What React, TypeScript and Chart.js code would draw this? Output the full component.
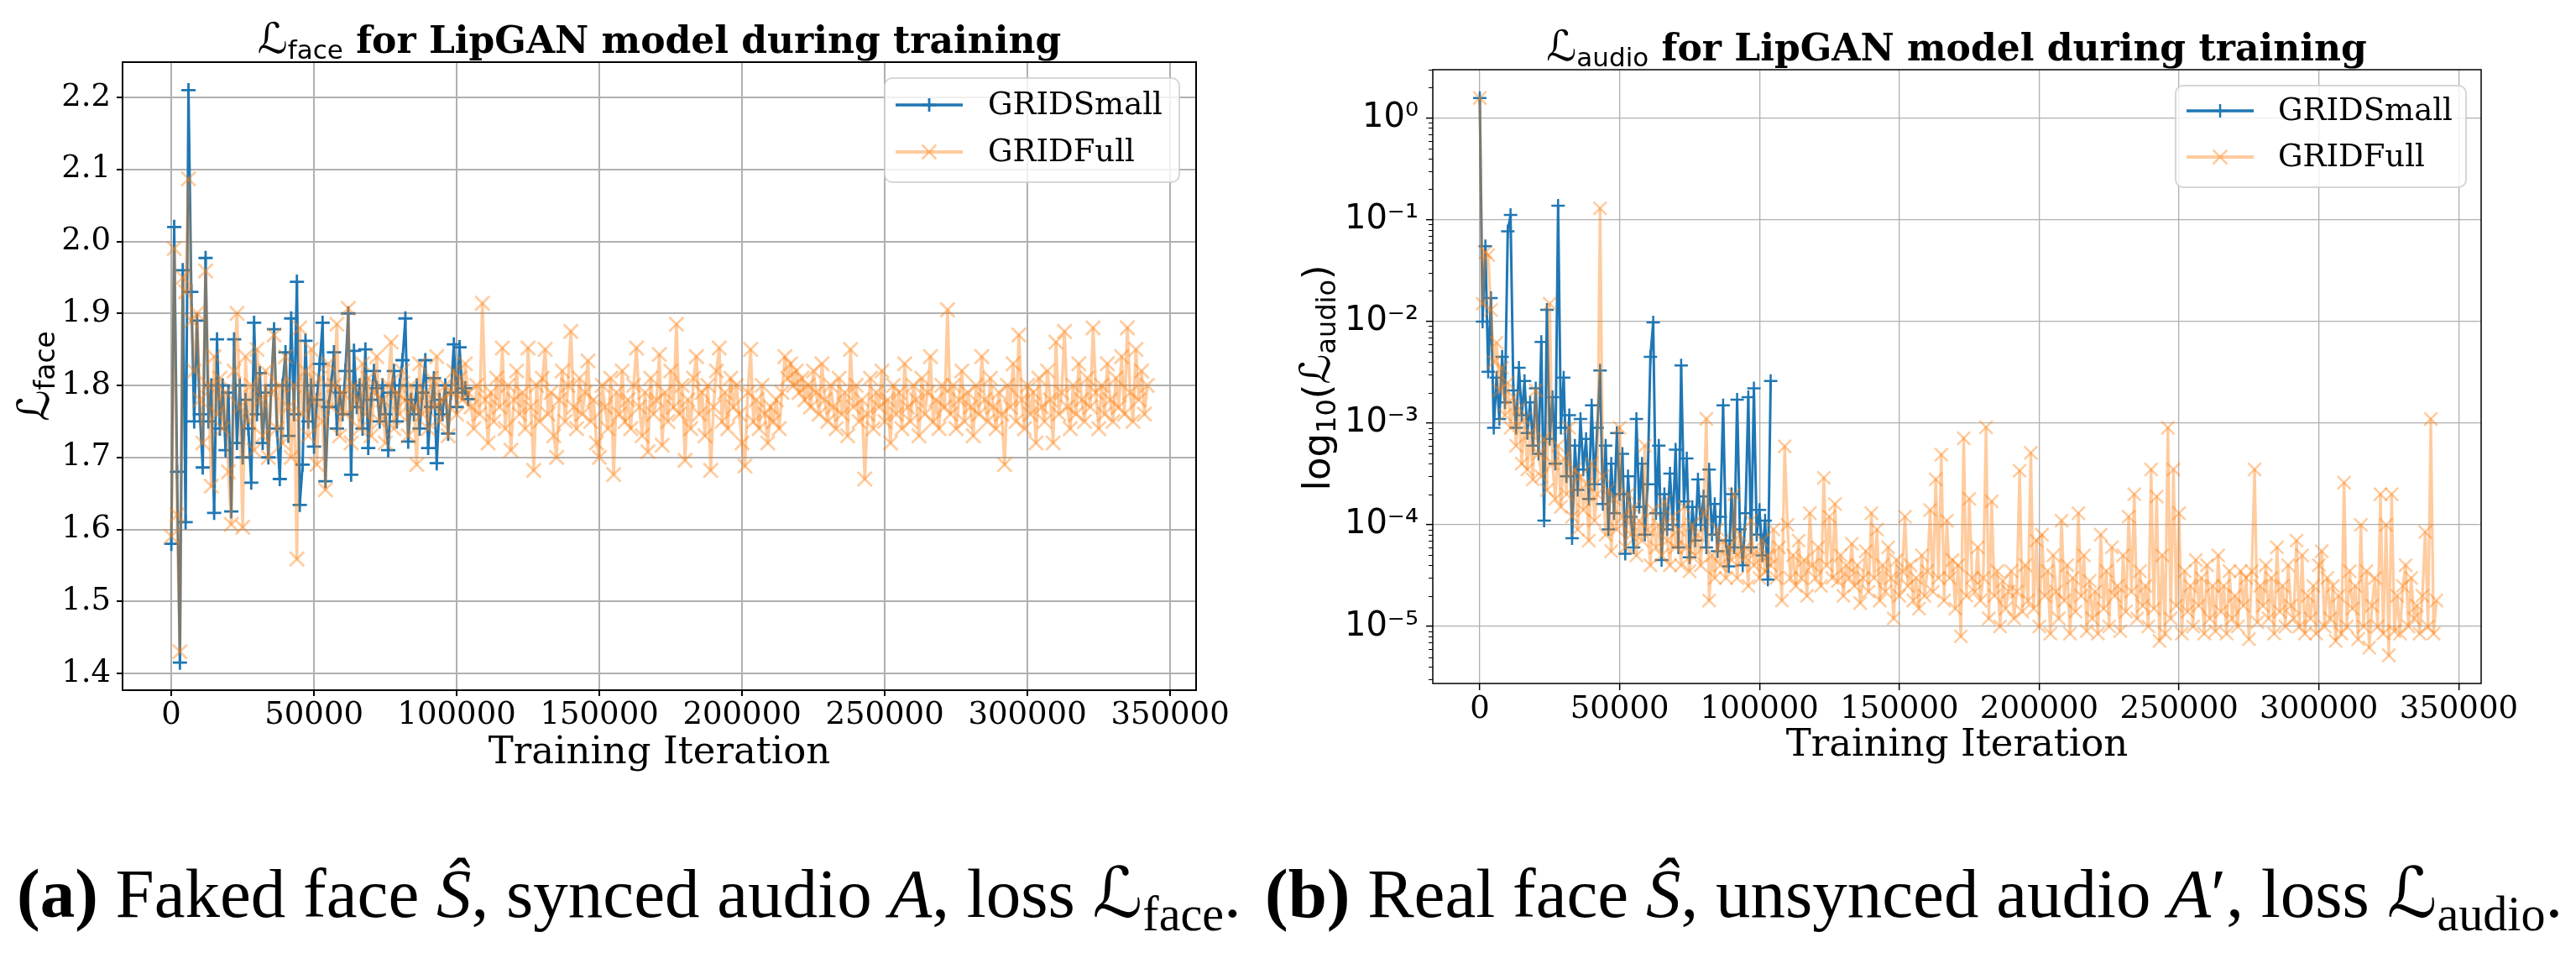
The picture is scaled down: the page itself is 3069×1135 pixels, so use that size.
import React, { useEffect, useRef } from 'react';
import { Chart, registerables } from 'chart.js';

Chart.register(...registerables);

// ---------------- data ----------------
const ITER_STEP = 1000; // logging interval (iterations between points)
const SERIES_NAMES = ['GRIDSmall', 'GRIDFull'];

const X_TICKS = [0, 50000, 100000, 150000, 200000, 250000, 300000, 350000];
const X_TICK_LABELS = ['0', '50000', '100000', '150000', '200000', '250000', '300000', '350000'];

const FACE_Y_TICKS = [1.4, 1.5, 1.6, 1.7, 1.8, 1.9, 2.0, 2.1, 2.2];
const FACE_Y_LABELS = ['1.4', '1.5', '1.6', '1.7', '1.8', '1.9', '2.0', '2.1', '2.2'];

const AUDIO_Y_TICKS = [1e-5, 1e-4, 1e-3, 1e-2, 1e-1, 1];
const AUDIO_Y_LABELS = ['10\u207B\u2075', '10\u207B\u2074', '10\u207B\u00B3', '10\u207B\u00B2', '10\u207B\u00B9', '10\u2070'];

// L_face, GRIDSmall
const FACE_SMALL = [
  1.58, 2.02, 1.68, 1.415, 1.96, 1.61, 2.21, 1.93, 1.75, 1.89,
  1.76, 1.686, 1.977, 1.75, 1.80, 1.623, 1.864, 1.74, 1.80, 1.71,
  1.79, 1.625, 1.864, 1.72, 1.80, 1.70, 1.78, 1.74, 1.665, 1.887,
  1.76, 1.817, 1.72, 1.79, 1.70, 1.80, 1.878, 1.74, 1.67, 1.80,
  1.846, 1.73, 1.893, 1.76, 1.944, 1.634, 1.69, 1.862, 1.75, 1.80,
  1.715, 1.78, 1.83, 1.887, 1.667, 1.77, 1.80, 1.846, 1.74, 1.79,
  1.76, 1.82, 1.90, 1.676, 1.848, 1.77, 1.80, 1.74, 1.85, 1.713,
  1.78, 1.82, 1.796, 1.75, 1.80, 1.76, 1.71, 1.79, 1.82, 1.75,
  1.80, 1.835, 1.893, 1.722, 1.78, 1.76, 1.80, 1.74, 1.79, 1.835,
  1.713, 1.77, 1.81, 1.692, 1.78, 1.76, 1.80, 1.733, 1.79, 1.857,
  1.77, 1.853, 1.79, 1.796, 1.781,
];

// L_face, GRIDFull
const FACE_FULL = [
  1.59, 1.99, 1.62, 1.43, 1.95, 1.93, 2.087, 1.89, 1.82, 1.90,
  1.78, 1.72, 1.959, 1.80, 1.66, 1.84, 1.76, 1.81, 1.74, 1.79,
  1.68, 1.607, 1.82, 1.90, 1.77, 1.603, 1.84, 1.75, 1.80, 1.71,
  1.85, 1.78, 1.73, 1.82, 1.70, 1.79, 1.87, 1.74, 1.80, 1.72,
  1.84, 1.77, 1.70, 1.80, 1.559, 1.88, 1.76, 1.82, 1.73, 1.85,
  1.78, 1.69, 1.81, 1.75, 1.655, 1.83, 1.77, 1.80, 1.885, 1.73,
  1.79, 1.76, 1.907, 1.72, 1.80, 1.78, 1.74, 1.83, 1.76, 1.81,
  1.73, 1.79, 1.84, 1.75, 1.78, 1.72, 1.80, 1.86, 1.74, 1.79,
  1.76, 1.82, 1.78, 1.73, 1.80, 1.77, 1.69, 1.83, 1.76, 1.79,
  1.74, 1.81, 1.77, 1.84, 1.75, 1.78, 1.80, 1.73, 1.79, 1.82,
  1.76, 1.81, 1.78, 1.83, 1.79, 1.77, 1.74, 1.80, 1.76, 1.914,
  1.78, 1.72, 1.79, 1.75, 1.81, 1.77, 1.852, 1.74, 1.80, 1.71,
  1.78, 1.82, 1.76, 1.79, 1.74, 1.852, 1.77, 1.682, 1.80, 1.75,
  1.81, 1.85, 1.76, 1.79, 1.73, 1.70, 1.78, 1.82, 1.75, 1.80,
  1.875, 1.77, 1.74, 1.81, 1.76, 1.79, 1.834, 1.75, 1.78, 1.72,
  1.70, 1.80, 1.77, 1.74, 1.81, 1.676, 1.79, 1.76, 1.82, 1.75,
  1.78, 1.74, 1.80, 1.852, 1.77, 1.73, 1.79, 1.708, 1.81, 1.76,
  1.78, 1.843, 1.717, 1.79, 1.75, 1.82, 1.77, 1.885, 1.76, 1.80,
  1.696, 1.78, 1.74, 1.81, 1.84, 1.76, 1.79, 1.73, 1.80, 1.682,
  1.77, 1.82, 1.852, 1.75, 1.79, 1.74, 1.81, 1.77, 1.80, 1.76,
  1.72, 1.688, 1.79, 1.85, 1.75, 1.78, 1.74, 1.80, 1.76, 1.72,
  1.77, 1.75, 1.78, 1.74, 1.79, 1.84, 1.81, 1.83, 1.80, 1.82,
  1.79, 1.81, 1.78, 1.80, 1.77, 1.82, 1.79, 1.76, 1.83, 1.78,
  1.75, 1.80, 1.77, 1.74, 1.81, 1.76, 1.79, 1.73, 1.85, 1.77,
  1.80, 1.75, 1.78, 1.67, 1.76, 1.81, 1.74, 1.79, 1.77, 1.82,
  1.75, 1.78, 1.72, 1.80, 1.76, 1.79, 1.74, 1.83, 1.77, 1.75,
  1.80, 1.78, 1.73, 1.81, 1.76, 1.79, 1.84, 1.75, 1.78, 1.74,
  1.80, 1.77, 1.905, 1.76, 1.80, 1.74, 1.78, 1.82, 1.75, 1.79,
  1.77, 1.73, 1.80, 1.76, 1.84, 1.78, 1.75, 1.81, 1.77, 1.74,
  1.79, 1.76, 1.69, 1.80, 1.77, 1.83, 1.75, 1.87, 1.78, 1.74,
  1.80, 1.76, 1.79, 1.72, 1.81, 1.77, 1.75, 1.82, 1.78, 1.72,
  1.86, 1.76, 1.79, 1.875, 1.77, 1.74, 1.80, 1.76, 1.83, 1.78,
  1.75, 1.81, 1.77, 1.88, 1.79, 1.74, 1.80, 1.76, 1.83, 1.78,
  1.75, 1.81, 1.77, 1.84, 1.76, 1.88, 1.79, 1.75, 1.85, 1.78,
  1.82, 1.76, 1.80,
];

// L_audio, GRIDSmall
const AUDIO_SMALL = [
  1.58, 0.01, 0.055, 0.0032, 0.017, 0.0009, 0.0028, 0.0011, 0.0045, 0.0016,
  0.077, 0.112, 0.0021, 0.0009, 0.0035, 0.0012, 0.0026, 0.0008, 0.0016, 0.0006,
  0.0022, 0.0005, 0.0063, 0.00011, 0.013, 0.0007, 0.0018, 0.0004, 0.138, 0.0009,
  0.0028, 0.0003, 0.0012, 0.000074, 0.0006, 0.00022, 0.0011, 0.00035, 0.0007, 0.00018,
  0.0015, 0.00025, 0.0009, 0.0033, 0.00016, 0.0006, 0.00009, 0.0004, 0.00013, 0.0008,
  0.0002, 0.0005, 0.000052, 0.0003, 0.00012, 0.00006, 0.0011, 0.00015, 0.0004, 0.00008,
  0.00025, 0.0045, 0.0098, 0.00013, 0.0006, 0.000045, 0.0002, 0.00009, 0.00032, 0.0001,
  0.00055, 0.00006, 0.0037, 0.00017, 0.00045, 0.000048, 0.00015, 0.00007, 0.00028, 0.0001,
  0.00019, 0.00006, 0.00035, 0.00008, 0.00016, 0.000055, 0.00012, 0.0015, 0.00007, 0.000039,
  0.0002, 0.00006, 0.0017, 0.00009, 0.00004, 0.00013, 0.0018, 0.00006, 0.0022, 0.00008,
  0.00014, 0.00005, 0.00011, 0.000029, 0.0026,
];

// L_audio, GRIDFull
const AUDIO_FULL = [
  1.58, 0.015, 0.048, 0.045, 0.013, 0.004, 0.0062, 0.0021, 0.0035, 0.0012,
  0.0025, 0.0009, 0.0018, 0.0006, 0.0014, 0.0004, 0.0011, 0.00035, 0.0008, 0.00028,
  0.0021, 0.0005, 0.0003, 0.0007, 0.00022, 0.015, 0.0004, 0.00018, 0.0006, 0.00015,
  0.00045, 0.0002, 0.0009, 0.00012, 0.00035, 0.00009, 0.0003, 0.00014, 0.00025, 0.00007,
  0.0004, 0.00011, 0.0002, 0.13, 0.0003, 0.00008, 0.00022, 0.000055, 0.00018, 0.00009,
  0.0009, 0.00012, 0.00006, 0.0002, 0.00008, 0.00015, 0.00005, 0.00011, 0.00007, 0.0006,
  0.00009, 0.00004, 0.00014, 0.00006, 0.0001, 0.00005, 0.00017, 0.00007, 0.00004, 0.00012,
  0.00006, 0.00009, 0.00004, 0.00015, 0.00006, 0.000035, 0.0001, 0.00005, 0.00008, 0.00004,
  0.00013, 0.0011, 0.000018, 0.00005, 0.00003, 0.00009, 0.00004, 0.00007, 0.00003, 0.00006,
  0.000045, 0.0002, 0.00003, 0.00008, 0.000045, 0.00006, 0.000025, 0.00011, 0.00004, 0.000055,
  0.00003, 0.00007, 0.000035, 0.00005, 0.00004, 0.00009, 0.00003, 0.00006, 0.000018, 0.00059,
  0.0001, 0.00003, 0.00005, 0.000025, 0.00007, 0.00003, 0.000045, 0.00002, 0.00013, 0.00004,
  0.00003, 0.00006, 0.000025, 0.00029, 0.00004, 0.00012, 0.00003, 0.00016, 0.000028, 0.00005,
  0.00002, 0.00004, 0.00003, 0.000065, 0.000025, 0.00004, 0.000017, 0.00003, 0.000055, 0.000022,
  0.00013, 0.00003, 0.00009, 0.000018, 0.00004, 0.000022, 0.00006, 0.00003, 0.000012, 0.000045,
  0.00002, 0.000035, 0.00012, 0.000025, 0.00004, 0.000018, 0.00003, 0.000015, 0.00005, 0.00002,
  0.000035, 0.00014, 0.000022, 0.00028, 0.00003, 0.00049, 0.000018, 0.00011, 0.00003, 0.000045,
  0.000015, 0.00004, 0.000008, 0.00071, 0.00002, 0.00018, 0.00003, 0.000022, 0.00006, 0.000018,
  0.00003, 0.00091, 0.000012, 0.00017, 0.00002, 0.000035, 0.00001, 0.000028, 0.000015, 0.000022,
  0.000035, 0.000012, 0.000022, 0.00034, 0.000014, 0.00004, 0.000018, 0.00051, 0.000015, 0.00007,
  0.00001, 0.00008, 0.00002, 0.000035, 0.0000085, 0.00005, 0.000022, 0.000012, 0.00011, 0.000018,
  0.00004, 0.0000085, 0.00003, 0.000014, 0.00013, 0.00002, 0.00005, 0.000009, 0.000028, 0.000012,
  0.000022, 0.0000085, 0.00008, 0.000015, 0.000035, 0.00001, 0.00006, 0.00002, 0.000025, 0.000009,
  0.00005, 0.000014, 0.00012, 0.000022, 0.0002, 0.000012, 0.000035, 0.000016, 0.000025, 0.00001,
  0.00035, 0.000015, 0.00019, 0.0000072, 0.00005, 0.0000085, 0.0009, 0.000012, 0.00035, 0.000016,
  0.00013, 0.0000085, 0.000035, 0.000014, 0.000025, 0.00001, 0.000045, 0.000016, 0.00003, 0.0000085,
  0.00004, 0.000012, 0.000025, 0.000009, 0.00005, 0.000014, 0.000025, 0.0000085, 0.000035, 0.000012,
  0.00002, 0.00001, 0.000035, 0.000016, 0.00003, 0.0000075, 0.000035, 0.00035, 0.000011, 0.000025,
  0.000016, 0.00004, 0.000012, 0.00003, 0.0000085, 0.00006, 0.000014, 0.000025, 0.00001, 0.00004,
  0.000016, 0.000012, 0.00007, 0.00001, 0.00005, 0.0000085, 0.00002, 0.000012, 0.000025, 0.0000085,
  0.00004, 0.000055, 0.00001, 0.00003, 0.000012, 0.000025, 0.0000072, 0.00002, 0.0000085, 0.00026,
  0.00001, 0.000035, 0.000015, 0.000025, 0.0000075, 0.0001, 0.00001, 0.000035, 0.0000062, 0.000016,
  0.00003, 0.00001, 0.0002, 0.0000085, 0.0001, 0.0000052, 0.0002, 0.000009, 0.00002, 0.0000085,
  0.000025, 0.00004, 0.00001, 0.00003, 0.000012, 0.000016, 0.0000085, 0.00002, 0.000085, 0.00001,
  0.0011, 0.0000085, 0.000018,
];

// ---------------- styles ----------------
const BLUE = '#1f77b4';
const ORANGE_A = 'rgba(255,127,14,0.4)';
const GRID = '#b0b0b0';
const SERIF = "'DejaVu Serif'";
const SANS = "'DejaVu Sans'";

const toXY = (arr: number[]) => arr.map((y, i) => ({ x: i * ITER_STEP, y }));

type Part = { t: string; font: string; dy?: number };

function drawRich(ctx: CanvasRenderingContext2D, parts: Part[], x: number, y: number, rot: number) {
  ctx.save();
  ctx.translate(x, y);
  ctx.rotate(rot);
  let w = 0;
  for (const p of parts) {
    ctx.font = p.font;
    w += ctx.measureText(p.t).width;
  }
  let cx = -w / 2;
  ctx.fillStyle = '#000';
  ctx.textAlign = 'left';
  ctx.textBaseline = 'alphabetic';
  for (const p of parts) {
    ctx.font = p.font;
    ctx.fillText(p.t, cx, p.dy || 0);
    cx += ctx.measureText(p.t).width;
  }
  ctx.restore();
}

function drawLegend(ctx: CanvasRenderingContext2D, L: any) {
  ctx.save();
  ctx.beginPath();
  (ctx as any).roundRect(L.x, L.y, L.w, L.h, 9);
  ctx.fillStyle = 'rgba(255,255,255,0.8)';
  ctx.fill();
  ctx.strokeStyle = 'rgba(204,204,204,0.8)';
  ctx.lineWidth = 2;
  ctx.stroke();
  const styles = [
    { color: BLUE, lw: L.lw, mw: L.mw, marker: 'plus' },
    { color: ORANGE_A, lw: L.lw + 0.5, mw: L.mw, marker: 'x' },
  ];
  L.rows.forEach((ry: number, i: number) => {
    const s = styles[i];
    ctx.strokeStyle = s.color;
    ctx.lineWidth = s.lw;
    ctx.beginPath();
    ctx.moveTo(L.x0, ry);
    ctx.lineTo(L.x1, ry);
    ctx.stroke();
    const cx = (L.x0 + L.x1) / 2;
    ctx.lineWidth = s.mw;
    ctx.beginPath();
    if (s.marker === 'plus') {
      const r = 8;
      ctx.moveTo(cx - r, ry); ctx.lineTo(cx + r, ry);
      ctx.moveTo(cx, ry - r); ctx.lineTo(cx, ry + r);
    } else {
      const d = 8.5;
      ctx.moveTo(cx - d, ry - d); ctx.lineTo(cx + d, ry + d);
      ctx.moveTo(cx - d, ry + d); ctx.lineTo(cx + d, ry - d);
    }
    ctx.stroke();
    ctx.fillStyle = '#000';
    ctx.font = `37px ${SERIF}`;
    ctx.textAlign = 'left';
    ctx.textBaseline = 'middle';
    ctx.fillText(SERIES_NAMES[i], L.tx, ry + 1);
  });
  ctx.restore();
}

function decorPlugin(o: any) {
  return {
    id: 'decor',
    afterDraw(chart: any) {
      const ctx = chart.ctx as CanvasRenderingContext2D;
      const a = chart.chartArea;
      if (o.minor) {
        const ys = chart.scales.y;
        ctx.save();
        ctx.strokeStyle = '#000';
        ctx.lineWidth = o.minorWidth;
        ctx.beginPath();
        for (const v of o.minor) {
          if (v < ys.min || v > ys.max) continue;
          const py = Math.round(ys.getPixelForValue(v)) + 0.5;
          ctx.moveTo(a.left - o.minorLen, py);
          ctx.lineTo(a.left, py);
        }
        ctx.stroke();
        ctx.restore();
      }
      ctx.save();
      ctx.strokeStyle = '#000';
      ctx.lineWidth = o.frameWidth;
      ctx.strokeRect(a.left, a.top, a.right - a.left, a.bottom - a.top);
      ctx.restore();
      drawRich(ctx, o.title, o.titleX, o.titleY, 0);
      drawRich(ctx, o.ylabel, o.ylabelX, o.ylabelY, -Math.PI / 2);
      drawLegend(ctx, o.legend);
    },
  };
}

const MINOR_LOG: number[] = [];
for (let e = -6; e <= 0; e++) {
  for (let k = 2; k <= 9; k++) MINOR_LOG.push(k * Math.pow(10, e));
}

function faceConfig(): any {
  return {
    type: 'line',
    data: {
      datasets: [
        {
          label: SERIES_NAMES[0], data: toXY(FACE_SMALL), order: 1,
          borderColor: BLUE, borderWidth: 3, borderJoinStyle: 'round',
          pointStyle: 'cross', pointRadius: 8.5, pointBorderWidth: 2.8,
          pointBorderColor: BLUE, pointBackgroundColor: BLUE, fill: false, tension: 0,
        },
        {
          label: SERIES_NAMES[1], data: toXY(FACE_FULL), order: 0,
          borderColor: ORANGE_A, borderWidth: 3.5, borderJoinStyle: 'round',
          pointStyle: 'crossRot', pointRadius: 12, pointBorderWidth: 2.8,
          pointBorderColor: ORANGE_A, pointBackgroundColor: ORANGE_A, fill: false, tension: 0,
        },
      ],
    },
    options: {
      animation: false, responsive: false, devicePixelRatio: 1,
      layout: { padding: { left: 0, top: 74, right: 115, bottom: 0 } },
      plugins: { legend: { display: false }, tooltip: { enabled: false }, title: { display: false } },
      scales: {
        x: {
          type: 'linear', min: -17100, max: 359100,
          afterBuildTicks: (s: any) => { s.ticks = X_TICKS.map((v) => ({ value: v })); },
          afterFit: (s: any) => { s.height = 108; },
          ticks: {
            callback: (_v: any, i: number) => X_TICK_LABELS[i],
            font: { family: SERIF, size: 37 }, color: '#000', padding: 1,
            maxRotation: 0, minRotation: 0, autoSkip: false, includeBounds: false,
          },
          grid: { color: GRID, lineWidth: 2, tickLength: 7, tickColor: '#000', tickWidth: 2 },
          border: { display: false },
          title: {
            display: true, text: 'Training Iteration', color: '#000',
            font: { family: SERIF, size: 45, lineHeight: 1.2 }, padding: { top: 0, bottom: 6 },
          },
        },
        y: {
          type: 'linear', min: 1.3767, max: 2.249,
          afterBuildTicks: (s: any) => { s.ticks = FACE_Y_TICKS.map((v) => ({ value: v })); },
          afterFit: (s: any) => { s.width = 146; },
          ticks: {
            callback: (_v: any, i: number) => FACE_Y_LABELS[i],
            font: { family: SERIF, size: 37 }, color: '#000', padding: 7, autoSkip: false,
          },
          grid: { color: GRID, lineWidth: 2, tickLength: 7, tickColor: '#000', tickWidth: 2 },
          border: { display: false },
        },
      },
    },
    plugins: [
      decorPlugin({
        frameWidth: 2,
        title: [
          { t: '\u2112', font: `50px ${SANS}` },
          { t: 'face', font: `31px ${SANS}`, dy: 6.5 },
          { t: ' for LipGAN model during training', font: `bold 44px ${SERIF}` },
        ],
        titleX: 785.5, titleY: 63,
        ylabel: [
          { t: '\u2112', font: `52px ${SANS}` },
          { t: 'face', font: `33px ${SANS}`, dy: 7 },
        ],
        ylabelX: 58, ylabelY: 448,
        legend: { x: 1054, y: 93, w: 351, h: 124, x0: 1067, x1: 1147, rows: [125, 181], tx: 1177, lw: 3.5, mw: 2.8 },
      }),
    ],
  };
}

function audioConfig(): any {
  return {
    type: 'line',
    data: {
      datasets: [
        {
          label: SERIES_NAMES[0], data: toXY(AUDIO_SMALL), order: 1,
          borderColor: BLUE, borderWidth: 3, borderJoinStyle: 'round',
          pointStyle: 'cross', pointRadius: 8, pointBorderWidth: 2.5,
          pointBorderColor: BLUE, pointBackgroundColor: BLUE, fill: false, tension: 0,
        },
        {
          label: SERIES_NAMES[1], data: toXY(AUDIO_FULL), order: 0,
          borderColor: ORANGE_A, borderWidth: 3.3, borderJoinStyle: 'round',
          pointStyle: 'crossRot', pointRadius: 11, pointBorderWidth: 2.5,
          pointBorderColor: ORANGE_A, pointBackgroundColor: ORANGE_A, fill: false, tension: 0,
        },
      ],
    },
    options: {
      animation: false, responsive: false, devicePixelRatio: 1,
      layout: { padding: { left: 0, top: 83, right: 113, bottom: 0 } },
      plugins: { legend: { display: false }, tooltip: { enabled: false }, title: { display: false } },
      scales: {
        x: {
          type: 'linear', min: -16800, max: 358000,
          afterBuildTicks: (s: any) => { s.ticks = X_TICKS.map((v) => ({ value: v })); },
          afterFit: (s: any) => { s.height = 116; },
          ticks: {
            callback: (_v: any, i: number) => X_TICK_LABELS[i],
            font: { family: SERIF, size: 37 }, color: '#000', padding: 1,
            maxRotation: 0, minRotation: 0, autoSkip: false, includeBounds: false,
          },
          grid: { color: GRID, lineWidth: 1.3, tickLength: 8, tickColor: '#000', tickWidth: 1.5 },
          border: { display: false },
          title: {
            display: true, text: 'Training Iteration', color: '#000',
            font: { family: SERIF, size: 45, lineHeight: 1.2 }, padding: { top: 0, bottom: 15 },
          },
        },
        y: {
          type: 'logarithmic', min: 2.75e-6, max: 3.0,
          afterBuildTicks: (s: any) => { s.ticks = AUDIO_Y_TICKS.map((v) => ({ value: v, major: true })); },
          afterFit: (s: any) => { s.width = 167; },
          ticks: {
            callback: (_v: any, i: number) => AUDIO_Y_LABELS[i],
            font: { family: SANS, size: 40 }, color: '#000', padding: 9, autoSkip: false,
          },
          grid: { color: GRID, lineWidth: 1.3, tickLength: 8, tickColor: '#000', tickWidth: 1.5 },
          border: { display: false },
        },
      },
    },
    plugins: [
      decorPlugin({
        frameWidth: 1.5,
        minor: MINOR_LOG, minorLen: 5, minorWidth: 1.2,
        title: [
          { t: '\u2112', font: `50px ${SANS}` },
          { t: 'audio', font: `31px ${SANS}`, dy: 6.5 },
          { t: ' for LipGAN model during training', font: `bold 44px ${SERIF}` },
        ],
        titleX: 791, titleY: 72,
        ylabel: [
          { t: 'log', font: `45px ${SANS}` },
          { t: '10', font: `32px ${SANS}`, dy: 7 },
          { t: '(', font: `45px ${SANS}` },
          { t: '\u2112', font: `50px ${SANS}` },
          { t: 'audio', font: `32px ${SANS}`, dy: 7 },
          { t: ')', font: `45px ${SANS}` },
        ],
        ylabelX: 44, ylabelY: 450,
        legend: { x: 1052, y: 102, w: 346, h: 121, x0: 1065, x1: 1145, rows: [132, 187], tx: 1174, lw: 3.3, mw: 2.5 },
      }),
    ],
  };
}

const capBase: any = {
  position: 'absolute',
  top: 1022,
  fontFamily: "'Liberation Serif', 'DejaVu Serif', serif",
  fontSize: 83,
  lineHeight: '83px',
  whiteSpace: 'nowrap',
  color: '#000',
};
const subStyle: any = { fontSize: '0.7em', position: 'relative', top: '0.28em' };
const calStyle: any = { fontFamily: SANS, fontStyle: 'normal' };

export default function App() {
  const leftRef = useRef<HTMLCanvasElement>(null);
  const rightRef = useRef<HTMLCanvasElement>(null);

  useEffect(() => {
    const c1 = new Chart(leftRef.current as HTMLCanvasElement, faceConfig());
    const c2 = new Chart(rightRef.current as HTMLCanvasElement, audioConfig());
    return () => {
      c1.destroy();
      c2.destroy();
    };
  }, []);

  return (
    <div style={{ position: 'absolute', left: 0, top: 0, width: 3069, height: 1135, background: '#fff', overflow: 'hidden' }}>
      <canvas ref={leftRef} width={1540} height={930} style={{ position: 'absolute', left: 0, top: 0 }} />
      <canvas ref={rightRef} width={1529} height={930} style={{ position: 'absolute', left: 1540, top: 0 }} />
      <div style={{ ...capBase, left: 20 }}>
        <b>(a)</b> Faked face <i>{'\u015C'}</i>, synced audio <i>A</i>, loss <span style={calStyle}>{'\u2112'}</span>
        <span style={subStyle}>face</span>.
      </div>
      <div style={{ ...capBase, left: 1507 }}>
        <b>(b)</b> Real face <i>{'\u015C'}</i>, unsynced audio <i>A</i>{'\u2032'}, loss <span style={calStyle}>{'\u2112'}</span>
        <span style={subStyle}>audio</span>.
      </div>
    </div>
  );
}
